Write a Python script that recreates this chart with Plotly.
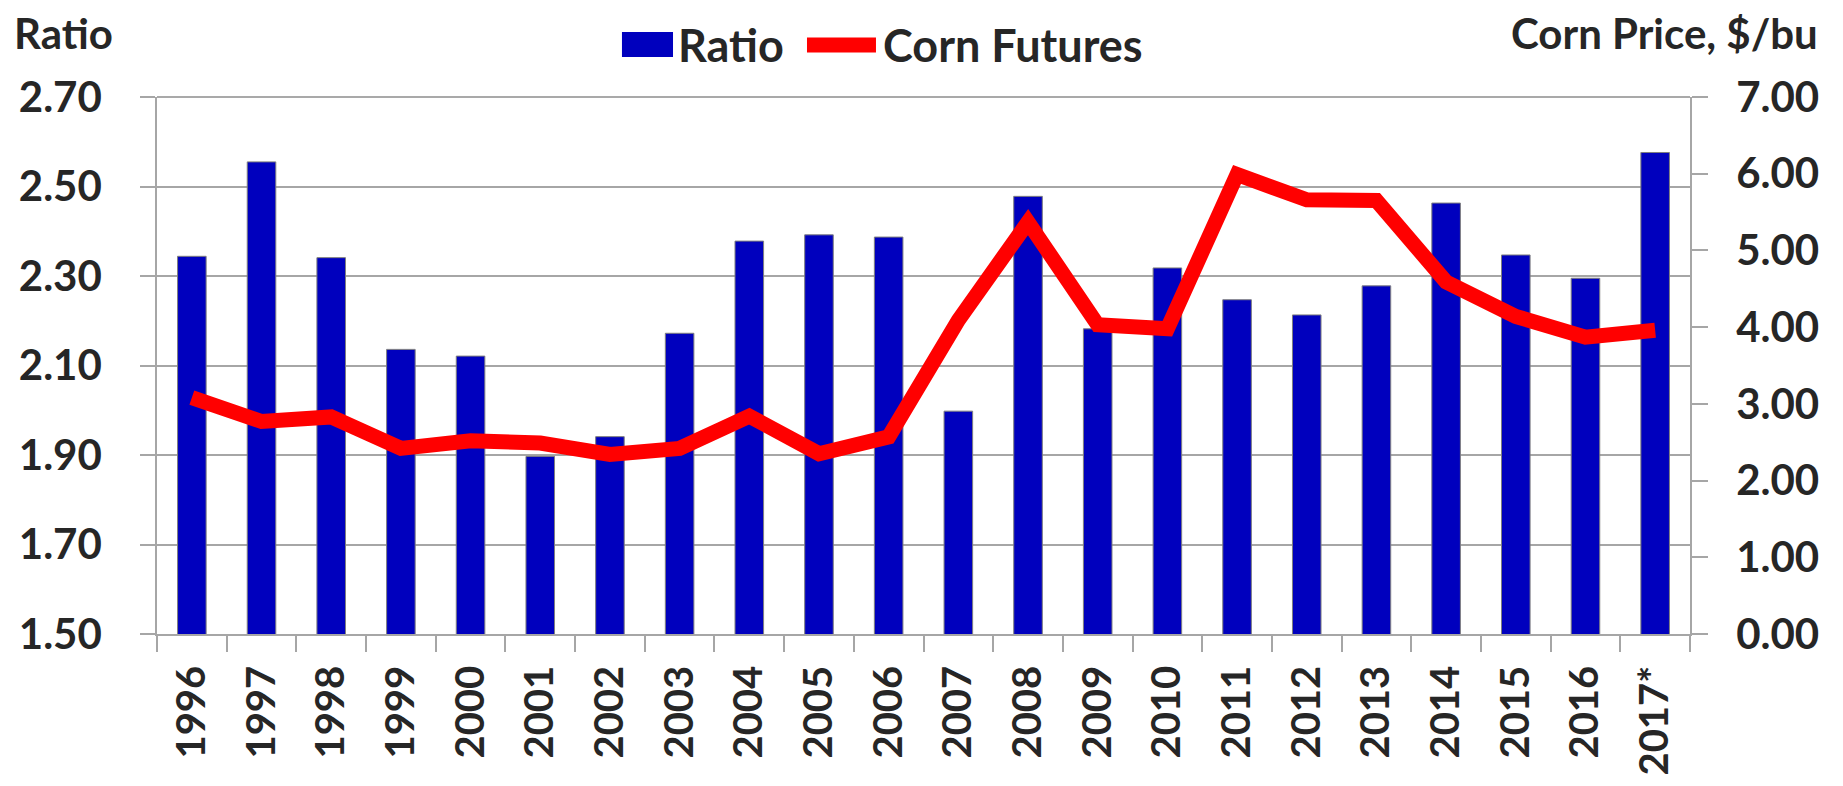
import plotly.graph_objects as go

# data
years = ["1996", "1997", "1998", "1999", "2000", "2001", "2002", "2003",
         "2004", "2005", "2006", "2007", "2008", "2009", "2010", "2011",
         "2012", "2013", "2014", "2015", "2016", "2017*"]
ratio = [2.344, 2.555, 2.341, 2.136, 2.121, 1.897, 1.941, 2.172,
         2.378, 2.392, 2.387, 1.998, 2.478, 2.182, 2.318, 2.247,
         2.213, 2.278, 2.463, 2.347, 2.295, 2.576]
corn_futures = [3.08, 2.77, 2.83, 2.42, 2.52, 2.49, 2.34, 2.42,
                2.84, 2.35, 2.57, 4.09, 5.37, 4.03, 3.98, 5.99,
                5.66, 5.65, 4.59, 4.14, 3.87, 3.96]

FONT = "Lato"
TXT = "#262626"
GRID = "#A6A6A6"
BLUE = "#0000BE"
RED = "#FF0000"

fig = go.Figure()

fig.add_trace(go.Bar(
    x=years, y=ratio, name="Ratio",
    marker=dict(color=BLUE, line=dict(color="#7F7F7F", width=1)),
    yaxis="y",
))

fig.add_trace(go.Scatter(
    x=years, y=corn_futures, name="Corn Futures", mode="lines",
    line=dict(color=RED, width=15),
    yaxis="y2",
))

# the page body adds an 8px margin, so the figure is 8px smaller on each side
fig.update_layout(
    width=1835, height=778,
    paper_bgcolor="white", plot_bgcolor="white",
    margin=dict(l=149, r=153, t=89, b=152, autoexpand=False),
    bargap=0.59,
    font=dict(family=FONT, color=TXT),
    showlegend=False,
    xaxis=dict(
        type="category", tickangle=-90, automargin=False,
        tickfont=dict(size=40, family=FONT, color=TXT, weight="bold"),
        showline=True, linecolor=GRID, linewidth=1.5,
        ticks="outside", tickson="boundaries", ticklen=16, tickcolor=GRID, tickwidth=1.5,
        showgrid=False, ticklabelstandoff=14,
    ),
    yaxis=dict(
        range=[1.5, 2.7], dtick=0.2, tick0=1.5, tickformat=".2f", automargin=False,
        tickfont=dict(size=42, family=FONT, color=TXT, weight="bold"),
        showline=True, linecolor=GRID, linewidth=1.5,
        ticks="outside", ticklen=15, tickcolor=GRID, tickwidth=1.5,
        showgrid=True, gridcolor=GRID, gridwidth=1.5, zeroline=False,
        ticklabelstandoff=30,
    ),
    yaxis2=dict(
        range=[0, 7], dtick=1, tick0=0, tickformat=".2f", automargin=False,
        overlaying="y", side="right",
        tickfont=dict(size=42, family=FONT, color=TXT, weight="bold"),
        showline=True, linecolor=GRID, linewidth=1.5,
        ticks="outside", ticklen=16, tickcolor=GRID, tickwidth=1.5,
        showgrid=False, zeroline=False, ticklabelstandoff=20,
    ),
)

# top border of the plot area
fig.add_shape(type="line", xref="paper", yref="paper", x0=0, x1=1, y0=1, y1=1,
              line=dict(color="#8C8C8C", width=1.5))

# legend drawn above the plot (large swatches like the original)
fig.add_shape(type="rect", xref="paper", yref="paper",
              x0=0.3033, x1=0.3366, y0=1.0745, y1=1.121,
              fillcolor=BLUE, line=dict(width=0))
fig.add_annotation(text="Ratio", xref="paper", yref="paper",
                   x=0.3386, y=1.0968, xanchor="left", yanchor="middle",
                   showarrow=False,
                   font=dict(size=45, family=FONT, color=TXT, weight="bold"))
fig.add_shape(type="line", xref="paper", yref="paper",
              x0=0.424, x1=0.469, y0=1.0968, y1=1.0968,
              line=dict(color=RED, width=15))
fig.add_annotation(text="Corn Futures", xref="paper", yref="paper",
                   x=0.4723, y=1.0968, xanchor="left", yanchor="middle",
                   showarrow=False,
                   font=dict(size=45, family=FONT, color=TXT, weight="bold"))

# axis captions (kept just inside the top edge)
fig.add_annotation(text="Ratio", xref="paper", yref="paper",
                   x=-0.0946, y=1.119, xanchor="left", yanchor="middle",
                   showarrow=False,
                   font=dict(size=42, family=FONT, color=TXT, weight="bold"))
fig.add_annotation(text="Corn Price, $/bu", xref="paper", yref="paper",
                   x=1.0848, y=1.119, xanchor="right", yanchor="middle",
                   showarrow=False,
                   font=dict(size=42, family=FONT, color=TXT, weight="bold"))

fig.write_html("out.html")
